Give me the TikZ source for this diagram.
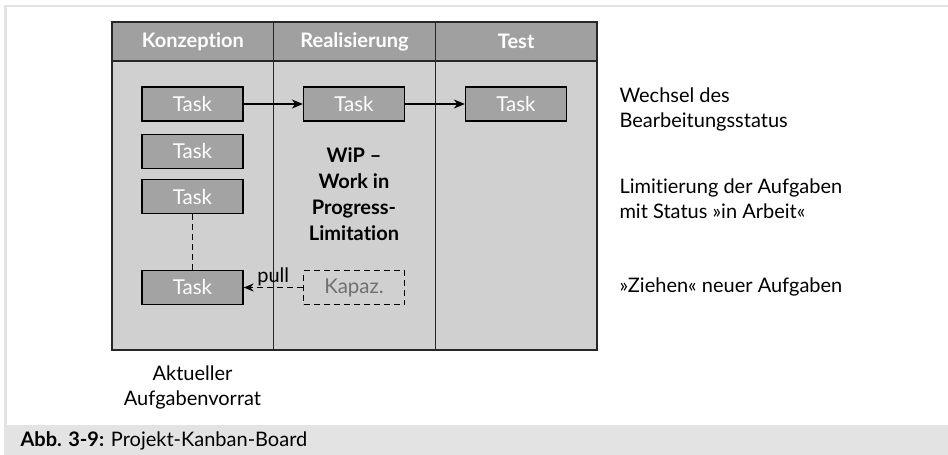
\documentclass[tikz,border=0pt]{standalone}
\usepackage{fontspec}
\setmainfont{Lato}[Ligatures={NoCommon,NoRare,NoContextual}]
\usetikzlibrary{positioning,arrows.meta}
\definecolor{headgray}{HTML}{A0A0A0}
\definecolor{bodygray}{HTML}{D0D0D0}
\definecolor{taskgray}{HTML}{A3A3A3}
\definecolor{framegray}{HTML}{E3E3E3}
\definecolor{kapgray}{HTML}{707070}
\tikzset{task node/.style={rectangle, fill=taskgray, draw=black, line width=1.3pt, minimum width=101pt, minimum height=34pt, inner sep=0pt, text=white, font=\fontsize{20.5}{24}\selectfont},
	kap node/.style={task node, fill=none, dash pattern=on 6pt off 4pt, text=kapgray},
	head node/.style={text=white, font=\bfseries\fontsize{20}{24}\selectfont},
	note node/.style={align=left, anchor=west, font=\fontsize{20}{25}\selectfont},
	flow/.style={line width=1.5pt, -{Stealth[length=11pt, width=9pt]}}}

\begin{document}
\begin{tikzpicture}[x=1pt, y=-1pt]
	\useasboundingbox (0,0) rectangle (948,455);
	% frame and caption band
	\fill[framegray] (4,5) rectangle (948,7);
	\fill[framegray] (4,5) rectangle (7,425);
	\fill[framegray] (4,425) rectangle (948,455);
	\node[anchor=west, font=\fontsize{20}{22}\selectfont] (cap) at (17,441) {\textbf{Abb. 3-9:} Projekt-Kanban-Board};

	% columns of the board
	\foreach \i/\name in {0/Konzeption, 1/Realisierung, 2/Test} {
		\draw[fill=bodygray, line width=1.3pt, draw=black!85] (112+\i*161.67,61) rectangle (273.67+\i*161.67,350);
		\draw[fill=headgray, line width=1.3pt, draw=black!85] (112+\i*161.67,22) rectangle (273.67+\i*161.67,61);
		\node[head node] (H\i) at (192.83+\i*161.67,41.5) {\name};
	}

	% tasks
	\node[task node] (A) at (192.5,104) {Task};
	\node[task node] (B) [below = 12pt of A] {Task};
	\node[task node] (C) [below = 10pt of B] {Task};
	\node[task node] (D) at (192.5,287.5) {Task};
	\node[task node] (E) at (354,104) {Task};
	\node[task node] (F) at (516,104) {Task};
	\node[kap node] (K) at (354,287.5) {Kapaz.};

	\node[align=center, font=\bfseries\fontsize{20}{26}\selectfont] (W) at (354,194) {WiP --\\Work in\\Progress-\\Limitation};
	\node[align=center, font=\fontsize{20}{25}\selectfont] (V) at (192.5,387.5) {Aktueller\\Aufgabenvorrat};

	% notes on the right
	\node[note node] (N1) at (616,109.5) {Wechsel des\\Bearbeitungsstatus};
	\node[note node] (N2) at (616,198.5) {Limitierung der Aufgaben\\mit Status »in Arbeit«};
	\node[note node] (N3) at (616,287) {»Ziehen« neuer Aufgaben};

	% edges
	\draw[flow] (A) -- (E);
	\draw[flow] (E) -- (F);
	\draw[line width=1.3pt, dash pattern=on 6pt off 4pt] (C) -- (D);
	\path[draw, line width=1.3pt, dash pattern=on 6pt off 4pt, -{Stealth[length=10pt, width=8pt]}]
	(K) edge node[above, font=\fontsize{20}{24}\selectfont, inner sep=1pt] {pull} (D);
\end{tikzpicture}
\end{document}
